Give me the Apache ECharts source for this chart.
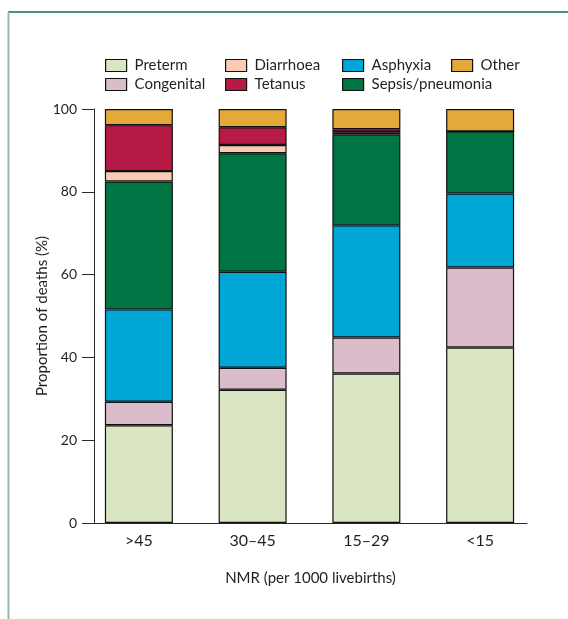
<!DOCTYPE html>
<html>
<head>
<meta charset="utf-8">
<script src="https://cdn.jsdelivr.net/npm/echarts@6/dist/echarts.min.js"></script>
<style>
html,body{margin:0;padding:0;background:#fff;}
#chart{width:568px;height:619px;}
</style>
</head>
<body>
<div id="chart"></div>
<script>
// Categories (NMR groups)
var categories = ['>45', '30\u201345', '15\u201329', '<15'];
var yTicks = [0, 20, 40, 60, 80, 100];

// Series values (% of deaths), bottom to top in stack order
var preterm    = [23.6, 32.2, 36.1, 42.4];
var congenital = [5.7, 5.3, 8.7, 19.3];
var asphyxia   = [22.3, 23.2, 27.1, 17.9];
var sepsis     = [30.9, 28.6, 21.9, 15.0];
var diarrhoea  = [2.5, 2.0, 0.6, 0];
var tetanus    = [11.1, 4.3, 0.7, 0];
var other      = [3.9, 4.4, 4.9, 5.4];

var seriesDefs = [
  {name: 'Preterm', data: preterm, color: '#d9e5c3'},
  {name: 'Congenital', data: congenital, color: '#dbbccb'},
  {name: 'Asphyxia', data: asphyxia, color: '#00a6d6'},
  {name: 'Sepsis/pneumonia', data: sepsis, color: '#007443'},
  {name: 'Diarrhoea', data: diarrhoea, color: '#f9cbb2'},
  {name: 'Tetanus', data: tetanus, color: '#b81a46'},
  {name: 'Other', data: other, color: '#e5a93a'}
];

var FONT = 'Lato';
var TXT = '#231f20';
var AX = '#2a2a2a';
var EDGE = '#111111';

var chart = echarts.init(document.getElementById('chart'), null, {renderer: 'canvas'});

function legendCol(left, names) {
  return {
    orient: 'vertical', left: left, top: 53,
    icon: 'rect',
    itemWidth: 21, itemHeight: 12, itemGap: 4,
    data: names,
    selectedMode: false,
    textStyle: {fontFamily: FONT, fontSize: 15, color: TXT, padding: [0, 0, 0, 3]},
    itemStyle: {borderColor: EDGE, borderWidth: 1.2}
  };
}

var option = {
  animation: false,
  backgroundColor: '#fff',
  graphic: [
    {type: 'line', shape: {x1: 8, y1: 12, x2: 568, y2: 12}, style: {stroke: '#1d6a45', lineWidth: 1.5}, silent: true},
    {type: 'line', shape: {x1: 8.5, y1: 12, x2: 8.5, y2: 619}, style: {stroke: '#8fbf9f', lineWidth: 2}, silent: true}
  ],
  legend: [
    legendCol(100, ['Preterm', 'Congenital']),
    legendCol(220, ['Diarrhoea', 'Tetanus']),
    legendCol(337, ['Asphyxia', 'Sepsis/pneumonia']),
    legendCol(446, ['Other'])
  ],
  grid: [
    {left: 82, right: 31, top: 109, bottom: 96},   // bars
    {left: 94, right: 41, top: 109, bottom: 96}    // axes frame
  ],
  xAxis: [
    {
      type: 'category', gridIndex: 0, data: categories, boundaryGap: true,
      axisLine: {show: false}, axisTick: {show: false}, splitLine: {show: false},
      axisLabel: {fontFamily: FONT, fontSize: 16, color: TXT, margin: 10}
    },
    {
      type: 'value', gridIndex: 1, min: 0, max: 1,
      name: 'NMR (per 1000 livebirths)', nameLocation: 'middle', nameGap: 48,
      nameTextStyle: {fontFamily: FONT, fontSize: 15, color: TXT},
      axisLine: {show: true, onZero: false, lineStyle: {color: AX, width: 1}},
      axisTick: {show: false}, axisLabel: {show: false}, splitLine: {show: false}
    }
  ],
  yAxis: [
    {
      type: 'value', gridIndex: 0, min: 0, max: 100, show: false
    },
    {
      type: 'value', gridIndex: 1, min: 0, max: 100, interval: 20,
      name: 'Proportion of deaths (%)', nameLocation: 'middle', nameGap: 44,
      nameMoveOverlap: false,
      nameTextStyle: {fontFamily: FONT, fontSize: 15, color: TXT},
      axisLine: {show: true, onZero: false, lineStyle: {color: AX, width: 1}},
      axisTick: {show: true, inside: false, length: 12, lineStyle: {color: AX, width: 1}},
      splitLine: {show: false},
      axisLabel: {
        fontFamily: FONT, fontSize: 14, color: TXT, margin: 17,
        formatter: function (v) { return yTicks.indexOf(v) >= 0 ? String(v) : ''; }
      }
    }
  ],
  series: seriesDefs.map(function (s) {
    return {
      name: s.name, type: 'bar', stack: 'total', barWidth: 68,
      xAxisIndex: 0, yAxisIndex: 0,
      itemStyle: {color: s.color, borderColor: EDGE, borderWidth: 1.2},
      data: s.data
    };
  })
};

chart.setOption(option);
</script>
</body>
</html>
